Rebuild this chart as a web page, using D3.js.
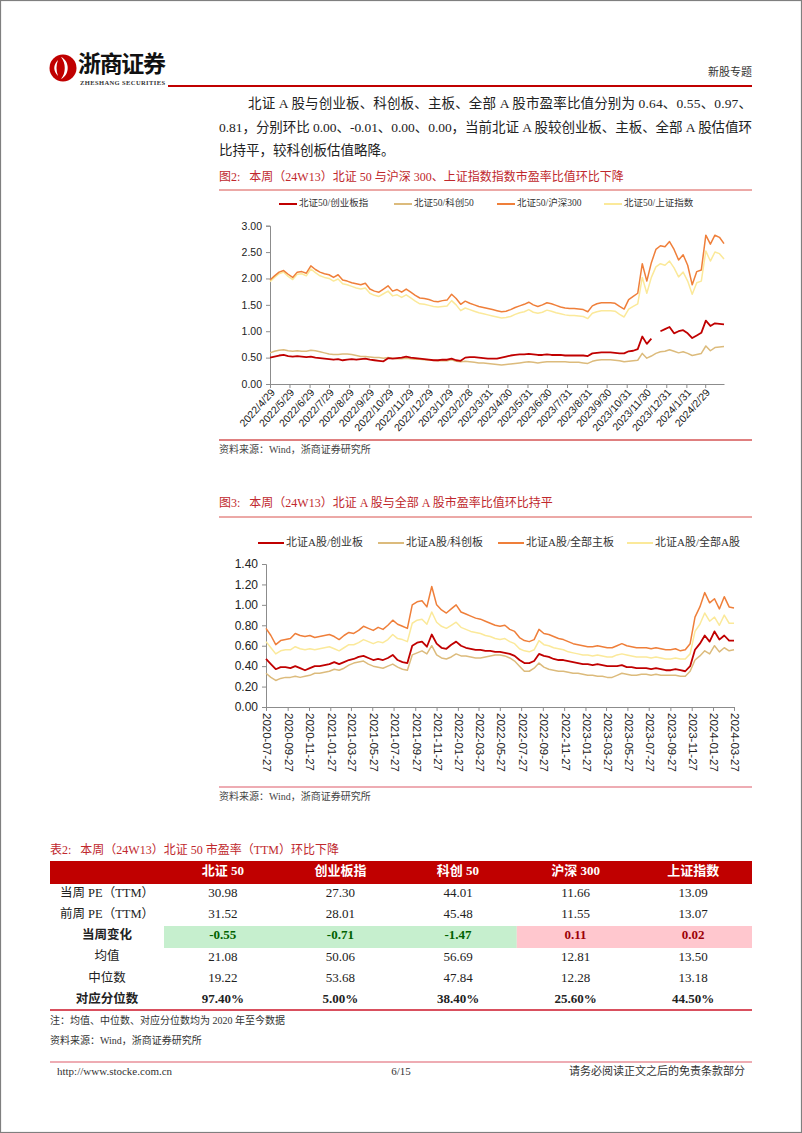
<!DOCTYPE html>
<html><head><meta charset="utf-8">
<script src="https://cdn.jsdelivr.net/npm/d3@7"></script>
<style>body{margin:0;background:#fff}svg{display:block}text{white-space:pre}</style>
</head><body><svg id="page" width="802" height="1133"></svg>
<script>
// ---------------- DATA ----------------
// Chart 1 (weekly, 2022-04-29 .. 2024-03-29)
const c1Start = "2022-04-29";
const c1TickLabels = ["2022/4/29","2022/5/29","2022/6/29","2022/7/29","2022/8/29","2022/9/29","2022/10/29","2022/11/29","2022/12/29","2023/1/29","2023/2/28","2023/3/31","2023/4/30","2023/5/31","2023/6/30","2023/7/31","2023/8/31","2023/9/30","2023/10/31","2023/11/30","2023/12/31","2024/1/31","2024/2/29"];
const c1Names = ["北证50/创业板指","北证50/科创50","北证50/沪深300","北证50/上证指数"];
const c1Cyb = [0.50,0.52,0.54,0.55,0.53,0.52,0.53,0.52,0.51,0.52,0.50,0.49,0.48,0.47,0.46,0.47,0.45,0.46,0.47,0.46,0.47,0.48,0.46,0.45,0.44,0.43,0.49,0.48,0.49,0.50,0.52,0.50,0.49,0.48,0.47,0.46,0.45,0.45,0.46,0.46,0.48,0.45,0.44,0.50,0.51,0.51,0.50,0.49,0.48,0.48,0.48,0.50,0.52,0.54,0.55,0.56,0.56,0.57,0.56,0.55,0.55,0.56,0.55,0.55,0.55,0.54,0.54,0.54,0.54,0.54,0.53,0.58,0.59,0.60,0.60,0.60,0.59,0.58,0.58,0.62,0.63,0.66,0.90,0.76,0.86,null,1.00,1.04,1.08,0.96,1.00,1.02,0.96,0.87,0.92,0.97,1.20,1.10,1.15,1.14,1.13];
const c1Kc50 = [0.59,0.62,0.64,0.65,0.63,0.62,0.63,0.62,0.62,0.64,0.63,0.61,0.59,0.57,0.56,0.56,0.57,0.57,0.56,0.54,0.52,0.52,0.51,0.50,0.50,0.49,0.50,0.49,0.48,0.48,0.49,0.48,0.47,0.47,0.46,0.45,0.45,0.44,0.44,0.44,0.46,0.43,0.42,0.43,0.42,0.41,0.40,0.40,0.39,0.38,0.37,0.36,0.37,0.38,0.39,0.40,0.41,0.42,0.41,0.40,0.41,0.42,0.42,0.42,0.42,0.42,0.41,0.41,0.41,0.40,0.39,0.43,0.45,0.46,0.46,0.46,0.45,0.44,0.42,0.43,0.44,0.45,0.58,0.49,0.53,0.58,0.61,0.62,0.65,0.62,0.59,0.61,0.58,0.54,0.56,0.58,0.72,0.63,0.69,0.70,0.71];
const c1Hs300 = [1.97,2.05,2.12,2.15,2.08,2.02,2.12,2.13,2.10,2.24,2.17,2.12,2.09,2.07,2.02,2.07,1.97,1.95,1.92,1.90,1.88,1.91,1.80,1.76,1.74,1.80,1.86,1.76,1.79,1.74,1.80,1.74,1.68,1.63,1.62,1.60,1.57,1.56,1.58,1.59,1.70,1.62,1.51,1.57,1.53,1.50,1.47,1.45,1.43,1.41,1.39,1.37,1.38,1.41,1.45,1.48,1.51,1.55,1.50,1.47,1.50,1.54,1.52,1.49,1.46,1.44,1.43,1.43,1.42,1.41,1.37,1.48,1.52,1.54,1.54,1.54,1.53,1.47,1.42,1.60,1.66,1.72,2.28,1.95,2.30,2.55,2.62,2.60,2.70,2.55,2.35,2.45,2.25,1.88,2.13,2.16,2.82,2.65,2.82,2.78,2.66];
const c1Sz = [1.94,2.02,2.09,2.12,2.04,1.98,2.08,2.09,2.05,2.18,2.11,2.05,2.02,2.00,1.95,1.99,1.90,1.88,1.85,1.82,1.80,1.82,1.72,1.68,1.66,1.71,1.76,1.67,1.69,1.64,1.69,1.63,1.57,1.52,1.51,1.49,1.47,1.46,1.47,1.48,1.58,1.50,1.39,1.44,1.41,1.38,1.35,1.33,1.31,1.29,1.27,1.25,1.26,1.28,1.32,1.35,1.37,1.41,1.36,1.34,1.36,1.40,1.38,1.35,1.33,1.31,1.30,1.30,1.29,1.28,1.24,1.34,1.37,1.39,1.39,1.39,1.38,1.32,1.27,1.42,1.47,1.52,2.02,1.72,2.02,2.22,2.28,2.25,2.33,2.20,2.03,2.12,1.95,1.70,1.92,1.95,2.52,2.33,2.50,2.47,2.37];
const c1YTicks = [0,0.5,1,1.5,2,2.5,3];

// Chart 2 (approx. bi-weekly, 2020-07-27 .. 2024-03-27)
const c2Start = "2020-07-27", c2End = "2024-03-27";
const c2TickLabels = ["2020-07-27","2020-09-27","2020-11-27","2021-01-27","2021-03-27","2021-05-27","2021-07-27","2021-09-27","2021-11-27","2022-01-27","2022-03-27","2022-05-27","2022-07-27","2022-09-27","2022-11-27","2023-01-27","2023-03-27","2023-05-27","2023-07-27","2023-09-27","2023-11-27","2024-01-27","2024-03-27"];
const c2Names = ["北证A股/创业板","北证A股/科创板","北证A股/全部主板","北证A股/全部A股"];
const c2Cyb = [0.47,0.42,0.37,0.39,0.39,0.38,0.40,0.38,0.36,0.38,0.40,0.40,0.41,0.42,0.44,0.42,0.44,0.46,0.47,0.49,0.50,0.48,0.46,0.47,0.46,0.48,0.51,0.46,0.44,0.43,0.60,0.63,0.64,0.59,0.71,0.62,0.58,0.57,0.61,0.64,0.60,0.58,0.57,0.56,0.56,0.55,0.55,0.54,0.54,0.53,0.52,0.50,0.46,0.43,0.43,0.45,0.52,0.50,0.49,0.47,0.46,0.46,0.45,0.44,0.43,0.42,0.42,0.41,0.42,0.41,0.40,0.40,0.40,0.41,0.39,0.39,0.38,0.38,0.38,0.37,0.38,0.37,0.36,0.36,0.37,0.36,0.35,0.40,0.56,0.62,0.70,0.64,0.74,0.66,0.70,0.65,0.65];
const c2Kcb = [0.33,0.29,0.26,0.28,0.29,0.29,0.30,0.29,0.30,0.31,0.33,0.33,0.34,0.35,0.37,0.36,0.38,0.41,0.43,0.44,0.45,0.42,0.40,0.39,0.38,0.40,0.42,0.39,0.37,0.36,0.51,0.53,0.55,0.52,0.60,0.51,0.48,0.47,0.49,0.52,0.50,0.50,0.49,0.48,0.48,0.49,0.50,0.51,0.51,0.50,0.48,0.45,0.40,0.35,0.35,0.38,0.43,0.39,0.37,0.36,0.35,0.35,0.34,0.33,0.33,0.32,0.31,0.31,0.30,0.30,0.29,0.29,0.31,0.33,0.32,0.31,0.31,0.32,0.32,0.31,0.32,0.31,0.31,0.31,0.31,0.30,0.30,0.35,0.46,0.50,0.55,0.52,0.60,0.54,0.58,0.55,0.56];
const c2Zb = [0.77,0.70,0.61,0.65,0.66,0.67,0.72,0.70,0.69,0.70,0.68,0.69,0.70,0.71,0.69,0.66,0.70,0.73,0.72,0.75,0.79,0.77,0.75,0.78,0.76,0.80,0.85,0.81,0.79,0.77,1.00,1.03,1.04,0.98,1.18,1.00,0.95,0.92,0.96,1.00,0.93,0.91,0.89,0.87,0.86,0.84,0.82,0.80,0.79,0.80,0.76,0.74,0.68,0.65,0.64,0.66,0.76,0.72,0.71,0.69,0.67,0.66,0.64,0.62,0.61,0.60,0.59,0.59,0.60,0.59,0.58,0.58,0.60,0.62,0.60,0.59,0.58,0.58,0.58,0.57,0.58,0.57,0.56,0.56,0.57,0.55,0.56,0.62,0.88,0.98,1.12,1.02,1.06,0.96,1.08,0.98,0.97];
const c2All = [0.64,0.58,0.52,0.55,0.56,0.56,0.59,0.57,0.56,0.57,0.56,0.57,0.58,0.59,0.57,0.55,0.58,0.61,0.61,0.63,0.66,0.64,0.62,0.64,0.63,0.66,0.71,0.67,0.66,0.64,0.82,0.85,0.86,0.81,0.93,0.83,0.79,0.77,0.80,0.83,0.78,0.76,0.74,0.73,0.72,0.70,0.69,0.67,0.66,0.67,0.64,0.62,0.57,0.55,0.54,0.56,0.65,0.61,0.60,0.58,0.57,0.56,0.54,0.53,0.52,0.51,0.51,0.50,0.51,0.50,0.49,0.49,0.51,0.52,0.51,0.50,0.49,0.49,0.49,0.48,0.49,0.48,0.47,0.47,0.48,0.47,0.47,0.52,0.74,0.81,0.92,0.84,0.88,0.80,0.90,0.82,0.82];
const c2YTicks = [0,0.2,0.4,0.6,0.8,1.0,1.2,1.4];

// Table
const tblCols = ["北证 50","创业板指","科创 50","沪深 300","上证指数"];
const tblRowNames = ["当周 PE（TTM）","前周 PE（TTM）","当周变化","均值","中位数","对应分位数"];
const peCur = ["30.98","27.30","44.01","11.66","13.09"];
const pePrev = ["31.52","28.01","45.48","11.55","13.07"];
const peChg = ["-0.55","-0.71","-1.47","0.11","0.02"];
const peMean = ["21.08","50.06","56.69","12.81","13.50"];
const peMedian = ["19.22","53.68","47.84","12.28","13.18"];
const pePct = ["97.40%","5.00%","38.40%","25.60%","44.50%"];

// ---------------- STYLE ----------------
const SERIF = '"Liberation Serif","Noto Sans CJK SC",serif';
const SANS = '"Liberation Sans",Arial,"Noto Sans CJK SC",sans-serif';
const RED = "#c00000", TITLE_RED = "#c0282d";
const COL = {red:"#c00000", tan:"#dcbb7c", orange:"#ef7f3a", yellow:"#fbe99a"};

const svg = d3.select("#page");
svg.append("rect").attr("x",0.5).attr("y",0.5).attr("width",801).attr("height",1132)
  .attr("fill","#fff").attr("stroke","#7f7f7f").attr("stroke-width",1.2);

function text(x,y,s,o={}){
  const t = svg.append("text").attr("x",x).attr("y",y).text(s)
    .attr("font-family",o.family||SERIF).attr("font-size",o.size||12)
    .attr("fill",o.fill||"#222").attr("dominant-baseline","middle");
  if(o.anchor) t.attr("text-anchor",o.anchor);
  if(o.weight) t.attr("font-weight",o.weight);
  if(o.len) t.attr("textLength",o.len).attr("lengthAdjust","spacing");
  return t;
}
function hline(x1,x2,y,c,w){svg.append("line").attr("x1",x1).attr("x2",x2).attr("y1",y).attr("y2",y).attr("stroke",c).attr("stroke-width",w);}

// ---------------- HEADER ----------------
const logo = svg.append("g").attr("transform","translate(63,68)");
logo.append("circle").attr("r",13.5).attr("fill",RED);
logo.append("path").attr("d","M-2,-11 C7,-7 7,7 -2,11 C3,5 3,-5 -2,-11Z").attr("fill","#fff");
logo.append("path").attr("d","M-5,-8 C-10,-3 -10,3 -5,8 C-7,3 -7,-3 -5,-8Z").attr("fill","#fff");
text(78,66,"浙商证券",{size:23,weight:"bold",fill:"#111",family:'"Noto Sans CJK SC",sans-serif',len:88});
text(80,84,"ZHESHANG SECURITIES",{size:6.5,weight:"bold",fill:"#333",len:85});
hline(168,752,86,RED,2);
text(752,73,"新股专题",{size:11,anchor:"end",fill:"#333"});

// paragraph
text(248,105,"北证 A 股与创业板、科创板、主板、全部 A 股市盈率比值分别为 0.64、0.55、0.97、",{size:13.5,len:504});
text(219,129,"0.81，分别环比 0.00、-0.01、0.00、0.00，当前北证 A 股较创业板、主板、全部 A 股估值环",{size:13.5,len:533});
text(219,152,"比持平，较科创板估值略降。",{size:13.5});

// ---------------- LINE CHART HELPER ----------------
function lineChart(cfg){
  const g = svg.append("g");
  const x = d3.scaleTime().domain([cfg.dates[0], cfg.dates[cfg.dates.length-1]]).range([cfg.x0,cfg.x1]);
  const y = d3.scaleLinear().domain([0,cfg.yMax]).range([cfg.yB,cfg.yT]);
  const ya = g.append("g").attr("transform",`translate(${cfg.x0},0)`)
    .call(d3.axisLeft(y).tickValues(cfg.yTicks).tickFormat(d3.format(".2f")).tickSize(4).tickPadding(4));
  ya.select(".domain").attr("stroke","#8c8c8c");
  ya.selectAll(".tick line").attr("stroke","#8c8c8c");
  ya.selectAll("text").attr("font-family",SANS).attr("font-size",cfg.yFont).attr("fill","#222");
  const xa = g.append("g").attr("transform",`translate(0,${cfg.yB})`)
    .call(d3.axisBottom(x).tickValues(cfg.tickDates).tickFormat((d,i)=>cfg.tickLabels[i]).tickSize(4).tickSizeOuter(0));
  xa.select(".domain").attr("stroke","#8c8c8c");
  xa.selectAll(".tick line").attr("stroke","#8c8c8c");
  xa.selectAll("text").attr("font-family",SANS).attr("font-size",cfg.xFont).attr("fill","#222")
    .attr("dy",null).attr("y",null).attr("dominant-baseline","middle")
    .attr("text-anchor",cfg.rot<0?"end":"start")
    .attr("transform",cfg.rot<0?`translate(3,7) rotate(${cfg.rot})`:`translate(0,6) rotate(${cfg.rot})`);
  const line = d3.line().defined(d=>d[1]!=null).x(d=>x(d[0])).y(d=>y(d[1]));
  cfg.drawOrder.forEach(k=>{
    const s = cfg.series[k];
    g.append("path").datum(cfg.dates.map((d,i)=>[d,s.values[i]]))
      .attr("d",line).attr("fill","none").attr("stroke",s.color).attr("stroke-width",s.w||1.5)
      .attr("stroke-linejoin","round");
  });
  cfg.series.forEach((s,i)=>{
    const lx = cfg.legX[i];
    g.append("line").attr("x1",lx).attr("x2",lx+cfg.legLen).attr("y1",cfg.legY).attr("y2",cfg.legY)
      .attr("stroke",s.color).attr("stroke-width",2);
    g.append("text").attr("x",lx+cfg.legLen+2).attr("y",cfg.legY).attr("dominant-baseline","middle")
      .attr("font-family",SERIF).attr("font-size",cfg.legFont).attr("fill","#333").text(s.name);
  });
}

// ---------------- FIGURE 2 ----------------
text(219,178,"图2:   本周（24W13）北证 50 与沪深 300、上证指数指数市盈率比值环比下降",{size:12,fill:TITLE_RED});
hline(219,752,190,"#d9534f",1);
const p1 = d3.timeParse("%Y/%m/%d"), pIso = d3.timeParse("%Y-%m-%d");
const c1Dates = c1Cyb.map((_,i)=>d3.timeDay.offset(pIso(c1Start),7*i));
lineChart({
  dates:c1Dates, x0:270, x1:724, yB:384, yT:225.7, yMax:3, yTicks:c1YTicks, yFont:10.5, xFont:10.5,
  tickDates:c1TickLabels.map(p1), tickLabels:c1TickLabels, rot:-48,
  series:[{name:c1Names[0],values:c1Cyb,color:COL.red,w:1.8},{name:c1Names[1],values:c1Kc50,color:COL.tan},
          {name:c1Names[2],values:c1Hs300,color:COL.orange},{name:c1Names[3],values:c1Sz,color:COL.yellow}],
  drawOrder:[3,2,1,0], legX:[279,394,497,604], legLen:18, legY:204, legFont:9.5
});
hline(219,752,440,RED,1);
text(219,451,"资料来源：Wind，浙商证券研究所",{size:10,fill:"#444"});

// ---------------- FIGURE 3 ----------------
text(219,504,"图3:   本周（24W13）北证 A 股与全部 A 股市盈率比值环比持平",{size:12,fill:TITLE_RED});
hline(219,752,517,"#d9534f",1);
const s2 = pIso(c2Start), e2 = pIso(c2End);
const c2Dates = c2Cyb.map((_,i)=>new Date(+s2 + (e2-s2)*i/(c2Cyb.length-1)));
lineChart({
  dates:c2Dates, x0:266, x1:734, yB:707, yT:564, yMax:1.4, yTicks:c2YTicks, yFont:12, xFont:11.5,
  tickDates:c2TickLabels.map(pIso), tickLabels:c2TickLabels, rot:90,
  series:[{name:c2Names[0],values:c2Cyb,color:COL.red,w:1.8},{name:c2Names[1],values:c2Kcb,color:COL.tan},
          {name:c2Names[2],values:c2Zb,color:COL.orange},{name:c2Names[3],values:c2All,color:COL.yellow}],
  drawOrder:[3,2,1,0], legX:[258,378,498,627], legLen:26, legY:543, legFont:11
});
hline(219,752,787,"#e8909a",1.5);
text(219,798,"资料来源：Wind，浙商证券研究所",{size:10,fill:"#444"});

// ---------------- TABLE ----------------
text(50,851,"表2:   本周（24W13）北证 50 市盈率（TTM）环比下降",{size:12,fill:TITLE_RED});
const colX = d3.scaleBand().domain(d3.range(5)).range([164,752]);
svg.append("rect").attr("x",50).attr("y",861).attr("width",702).attr("height",23).attr("fill",RED);
tblCols.forEach((c,i)=>text(colX(i)+colX.bandwidth()/2,872.5,c,{size:13,weight:"bold",fill:"#fff",anchor:"middle"}));
const rowY = d3.scalePoint().domain(d3.range(6)).range([894,1000]);
svg.append("rect").attr("x",colX(0)).attr("y",926).attr("width",colX(3)-colX(0)).attr("height",22).attr("fill","#c6efce");
svg.append("rect").attr("x",colX(3)).attr("y",926).attr("width",752-colX(3)).attr("height",22).attr("fill","#ffc7ce");
const rows = [peCur,pePrev,peChg,peMean,peMedian,pePct];
rows.forEach((r,ri)=>{
  const bold = (ri===2||ri===5);
  text(107,rowY(ri),tblRowNames[ri],{size:12.5,anchor:"middle",weight:bold?"bold":null,fill:"#222"});
  r.forEach((v,ci)=>{
    let fill="#222";
    if(ri===2) fill = ci<3 ? "#006100" : "#9c0006";
    text(colX(ci)+colX.bandwidth()/2,rowY(ri),v,{size:13,anchor:"middle",weight:bold?"bold":null,fill});
  });
});
hline(50,752,1010,"#d9505e",2);
text(50,1022,"注：均值、中位数、对应分位数均为 2020 年至今数据",{size:10,fill:"#333"});
text(50,1042,"资料来源：Wind，浙商证券研究所",{size:10,fill:"#333"});

// ---------------- FOOTER ----------------
hline(50,752,1062,"#e8909a",1.5);
text(57,1072,"http://www.stocke.com.cn",{size:11,fill:"#333"});
text(401,1072,"6/15",{size:11,fill:"#333",anchor:"middle"});
text(745,1072,"请务必阅读正文之后的免责条款部分",{size:11,fill:"#333",anchor:"end"});
</script></body></html>
